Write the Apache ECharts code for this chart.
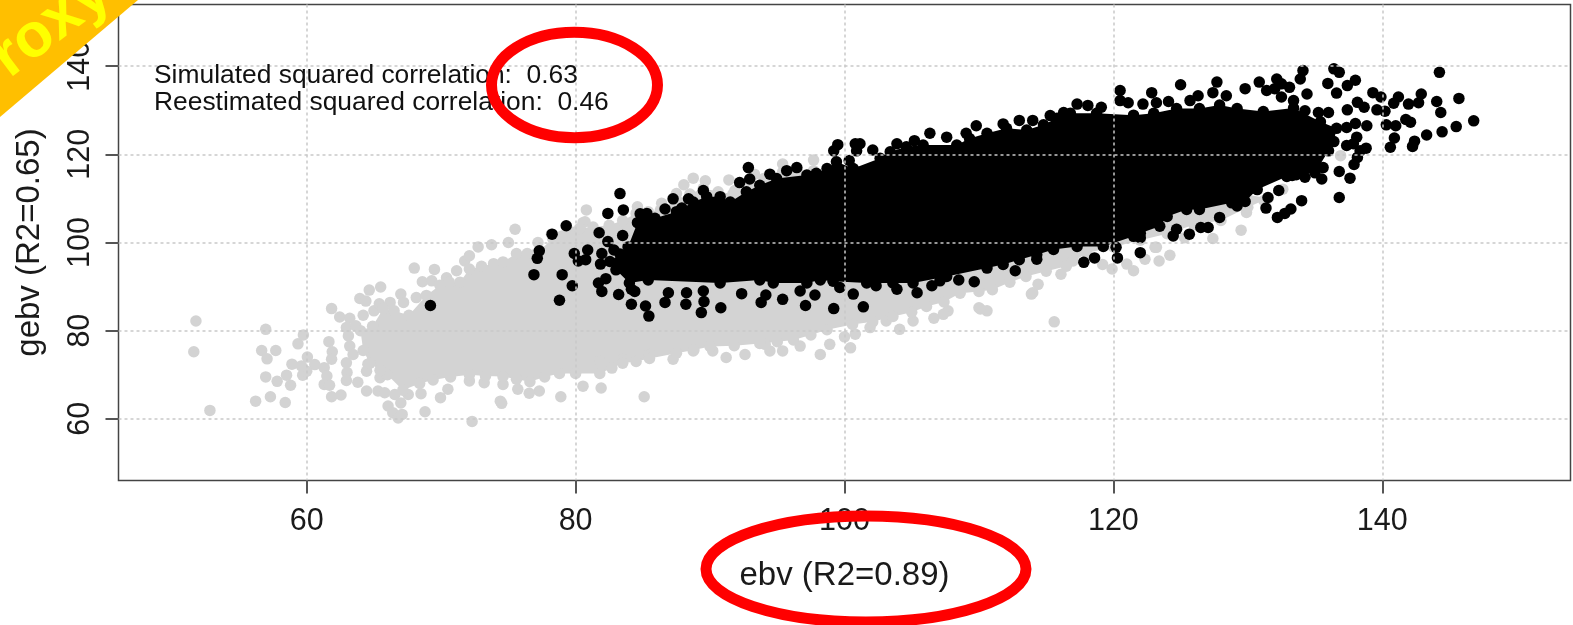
<!DOCTYPE html>
<html>
<head>
<meta charset="utf-8">
<title>ebv gebv</title>
<script src="https://cdn.jsdelivr.net/npm/echarts@6/dist/echarts.min.js"></script>
<style>
html, body { margin: 0; padding: 0; background: #fff; }
#myChart { width: 1573px; height: 625px; }
</style>
</head>
<body>
<div id="myChart"></div>
<script>
var tickValues = [60, 80, 100, 120, 140];
var xName = 'ebv (R2=0.89)';
var yName = 'gebv (R2=0.65)';
var noteLines = ['Simulated squared correlation:  0.63', 'Reestimated squared correlation:  0.46'];

// the solid part of each cloud, outline
var greyCore = [[64.2,75.5],[64,80],[64.9,81],[65.7,85],[66.5,84.5],[67.6,83.5],[68.9,88],[69.9,90.3],[70.6,91],[71.4,91],[72.1,94],[73,94.6],[73.9,95.2],[74.6,95.6],[75.6,97.5],[76.4,97.5],[77.1,97.5],[78.3,100.9],[79,101.5],[79.7,102.4],[80.3,103.2],[81.3,103.5],[82.5,103.9],[83.5,105],[84.5,106.6],[85.4,107],[86.3,107.3],[87.5,109.7],[88.5,111],[89.5,112.3],[90.6,111.5],[91.7,111],[93,113.5],[94,114.5],[95.4,116],[96.5,116.3],[97.7,116.3],[110,120],[128,112],[131.5,110],[130,108],[128,105],[126,104],[124,102],[122,100.5],[120,99],[118,97.6],[116.5,94.6],[115,93.5],[113.5,92.3],[112.3,91],[111,89.3],[110,88.9],[108.6,88.5],[107.4,86.5],[106.1,85.5],[105,84.2],[103.6,83.2],[102.1,82],[100.6,81.4],[98.7,80.2],[97.5,79],[96.2,77.9],[95,77.5],[93.7,77.1],[91.8,76.6],[90,76.4],[88.8,75.6],[87.5,74.9],[85.5,73.7],[84.5,73],[83.5,72.6],[82.7,71.5],[81.8,70.3],[80,70.3],[78.8,70.3],[77.7,69.5],[76.6,68.4],[75.6,69],[74.6,69.6],[73.3,69.7],[72.1,70],[70.7,69.5],[69.4,68.8],[68.4,68],[67.15,66.5],[66,70],[65.45,71],[64.7,72.6]];
var blackCore = [[83.9,99],[84.6,104.5],[85.1,106],[85.9,105.5],[87.5,107],[88.75,109.2],[89.75,110.4],[90.75,110.4],[91.5,109.2],[92.7,111.5],[93.7,113],[94.95,114.5],[97.2,115.3],[97.9,115.7],[98.7,116.8],[99.4,118.3],[100.65,116.8],[102.65,119.1],[103.4,120.6],[104.6,121.7],[105.85,122.1],[108.35,122.1],[109.3,123.6],[110.6,124.8],[112.05,125.9],[113.55,125.5],[114.8,126.7],[115.8,128.2],[116.8,129.3],[118.75,129.3],[121.5,128.9],[123,129.3],[124.7,130.4],[126.4,130.4],[127.9,131.2],[129.2,130.4],[131.15,129.7],[133.4,130.5],[135.4,127.4],[136.6,125.9],[136.4,122.9],[136,120.8],[135,115.8],[133.6,115.4],[132.9,115],[130.7,112],[129.8,109.3],[128.8,109],[126.4,107.5],[125.45,107.5],[124,105.9],[123.45,103.7],[122,102.1],[121.5,101.4],[119.25,99.1],[117.3,99.1],[115.55,98.4],[114.3,97.2],[113,96.1],[111.8,95],[110.6,94.2],[107.6,92.3],[105.1,90.8],[103.6,90.8],[101.65,90.8],[99.15,91.2],[98.2,91.5],[97.2,90.8],[94.7,90.8],[93.7,91.5],[90.75,90.8],[85.4,91.5],[84,90.8],[83,93.8],[82.55,95.7],[83.3,97.4]];

var greyPoints = [[51.76,82.2],[51.6,75.2],[52.8,61.9],[56.2,64],[57.3,65],[58.4,63.7],[56.95,80.3],[56.65,75.5],[57.7,75.5],[57.05,73.6],[56.95,69.5],[57.8,68.5],[58.5,69.9],[58.8,67.6],[58.9,72.4],[59.35,77],[59.75,79],[60.05,74],[60.6,72.3],[59.7,69.9],[60,70.8],[59.6,72],[61.3,71.6],[61.5,69.7],[61.3,67.8],[61.7,67.6],[61.85,65],[62.55,65.4],[61.65,77.5],[61.9,75.2],[61.85,73.5],[61.85,85],[62.45,83.1],[63.2,82.8],[62.95,80.7],[63.65,81.1],[63.1,78.8],[63.2,76.5],[63.45,74.6],[62.95,72.7],[63,70.5],[62.95,68.7],[63.8,68.3],[64.45,66.3],[64.55,72.4],[64.45,70.8],[65.45,69.3],[65.3,66.3],[65.8,65.9],[66.05,62.9],[66.4,61.4],[66.8,60.2],[67.1,61],[67,63.6],[66.55,65.5],[67.55,65.5],[68.5,65.7],[68.8,61.6],[69.95,64.8],[70.5,66.7],[72.3,59.4],[74.4,64],[74.5,63.5],[78.9,65],[85.1,65],[81.9,67],[80.55,67.4],[77.3,66.3],[76.55,65.8],[75.7,66.7],[74.6,67.8],[73.2,68.2],[72.1,68.6],[64.65,89.2],[65.5,89.9],[63.95,87.3],[64.4,86.7],[64.2,83.5],[65,84.5],[65.4,86.1],[66.2,86.4],[67,88.3],[67.2,86.4],[68.15,87.5],[68,94.2],[69.5,93.9],[68.6,91.1],[69.3,91.3],[70.4,92],[71.15,93.6],[71.75,95.8],[72.1,97],[72.75,99],[73.75,99.5],[75,100],[75.5,103],[77.2,100],[78.2,101.9],[80.55,104.5],[80.8,107.4],[80.7,104.7],[84.6,108.1],[86.4,108.9],[87.5,111.1],[88.05,113.1],[88.75,114.6],[89.65,114],[91.4,114.2],[91.85,111.8],[93.3,115.5],[95.4,117.8],[97.7,118.7],[98.2,74.6],[98.9,76.9],[100,78.6],[100.45,76.1],[100.8,79.2],[101.9,80.7],[103.1,82.2],[104.1,80.3],[105.1,82.2],[106.65,82.8],[110.6,84.5],[110,85.2],[107.7,84.5],[113.9,88.3],[115.6,82],[96.7,76.5],[95.4,75.4],[94.45,75.4],[94.1,76.9],[92.6,74.6],[91.2,73.9],[90.2,75.4],[88.75,75.4],[87.25,73.5],[85.5,74.6],[83.5,73.5],[81.8,73.1],[110.1,84.9],[107.35,83.7],[114,88.6],[114.4,90.5],[116.1,92.8],[117,95.8],[119.2,95],[119.9,94],[121,95.1],[121.5,93.6],[122.35,96.2],[123.4,95.8],[124.2,97.1],[123.2,98.9],[127.4,100.9],[129.5,102.8],[129.9,106.8],[128.4,107.2],[132.6,112.1],[136.9,119.7],[123.1,98.9],[131.2,109.5],[125.3,101.1]];

var blackPoints = [[69.2,85.7],[76.9,92.7],[77.3,98.1],[77.15,96.4],[78.25,101.9],[79.3,103.8],[79,92.7],[79.75,90.2],[78.8,86.9],[79.9,97.5],[80.2,95.8],[80.9,98.3],[80.75,96.1],[81.75,102.2],[82.4,100.2],[82.85,98.3],[83.5,101.6],[81.95,97.5],[81.85,95.1],[81.7,90.8],[82.25,91.8],[81.95,88.9],[83.2,88.2],[84.15,89.4],[84.4,88.9],[84.15,86],[85.2,85.6],[85.45,83.3],[83.3,111.1],[82.4,106.6],[83.55,107.4],[86.65,86.4],[88.2,86],[89.55,86.6],[89.35,84.1],[90.8,85.2],[93.8,86.4],[94.15,88.1],[95.4,87.1],[97.1,85.7],[97.8,88.1],[99.2,85],[100.65,88.3],[101.4,85.4],[103.9,89.4],[105.4,88.6],[106.5,90.2],[108.5,91.5],[109.65,91.1],[112.7,93.6],[114.3,96.2],[86.9,88.6],[88.25,88.6],[89.5,89],[92.35,88.4],[96.7,89],[99.65,89.8],[102.35,90.2],[107.1,91.3],[92.85,117],[92.95,114.4],[92.2,113.6],[88.4,109.9],[89.5,111.8],[87.25,109.9],[86.65,107.6],[87.9,107.8],[84.8,106.5],[85.3,106.6],[94.45,115.5],[95.7,116.3],[96.45,117],[99.5,122.2],[99.2,120.8],[100.8,122.4],[101.15,122.4],[100.9,120.8],[102.1,121],[100.35,118.6],[103.9,122.4],[105.2,123.1],[106.35,124.8],[107.6,123.9],[109.05,124.8],[109.8,126.5],[111.8,126.9],[117.3,131.4],[118.1,131.1],[119.1,130.7],[116.3,129.5],[115.3,128.8],[114,127.7],[113,127.7],[120.5,134.5],[120.5,132.2],[121.1,131.7],[122.85,134],[123.2,131.7],[122.2,131.4],[125,135.8],[124.1,132],[126.3,133.3],[125.7,132.2],[127.4,134],[127.7,136.4],[129.8,134.9],[128.4,133.3],[130.85,136.4],[132.15,137.1],[132.5,136],[131.4,134.5],[132,134.9],[133.1,135.2],[132.5,133],[134.1,139],[133.9,137.1],[134.4,133.7],[133.4,132.2],[135.25,129.5],[136,129.5],[134.25,129.9],[136.4,139.4],[136.8,138.6],[135.95,136.1],[136.6,133.9],[137.4,135.6],[138,136.8],[139.3,134],[139.9,133],[138.15,131.8],[137.4,130.1],[138.65,130.7],[139.6,130.1],[140.2,129.8],[138,127],[138.85,126.5],[140.3,126.7],[141,126.5],[141.2,133],[140.85,131.6],[141.95,131.4],[142.9,133.7],[142.7,131.7],[144.25,138.6],[144.05,132],[145.7,132.7],[144.35,129.5],[146.8,127.6],[145.5,126.3],[144.45,125.1],[143.3,124.4],[141.75,127.9],[142.1,127.3],[140.9,123.7],[140.6,121.6],[142.4,123],[142.25,121.8],[138.8,121.4],[138.35,120.8],[138.15,119.3],[137.9,117.7],[137.6,114.6],[136.8,116.1],[136.8,110.2],[137.85,122.4],[137.35,126.1],[138.1,123.9],[137.35,122],[135.5,114.4],[135.6,117],[135,117.8],[133.9,117],[133.3,115.2],[134.25,114.8],[134,109.5],[133.2,107.6],[132.75,106.6],[132.2,105.7],[131.35,107.8],[131.5,110.2],[132.3,111.8],[127.9,105.7],[127.05,103.4],[126.5,103.4],[125.65,101.9],[124.45,101.5],[124.7,103],[122,97.7],[120.3,96.5],[118.6,96.5],[117.8,95.5],[122,101.1],[120.2,98.9],[129.2,108.3]];

var fontName = '"Liberation Sans", Arial, sans-serif';

function coreSeries(outline, color, z) {
	return {
		type: 'custom',
		coordinateSystem: 'cartesian2d',
		silent: true,
		z: z,
		data: [0],
		renderItem: function (params, api) {
			return {
				type: 'polygon',
				shape: { points: outline.map(function (p) { return api.coord(p); }) },
				style: { fill: color }
			};
		}
	};
}

function pointSeries(points, color, z) {
	return {
		type: 'scatter',
		data: points,
		symbol: 'circle',
		symbolSize: 11.5,
		silent: true,
		z: z,
		itemStyle: { color: color, opacity: 1 }
	};
}

function axisOption(name, gap, rotate, labelMargin) {
	return {
		type: 'value',
		min: 46,
		max: 154,
		z: 10,
		name: name,
		nameLocation: 'middle',
		nameGap: gap,
		nameTextStyle: { fontFamily: fontName, fontSize: 33, color: '#1a1a1a' },
		axisLine: { show: false },
		axisTick: { show: true, length: 13, customValues: tickValues, lineStyle: { color: '#555', width: 2 } },
		axisLabel: {
			customValues: tickValues,
			rotate: rotate,
			margin: labelMargin,
			fontFamily: fontName,
			fontSize: 30.5,
			color: '#1a1a1a'
		},
		splitLine: { show: true, lineStyle: { color: '#c9c9c9', width: 1.5, type: [3, 3] } }
	};
}

var myChart = echarts.init(document.getElementById('myChart'));
myChart.setOption({
	animation: false,
	grid: { show: true, left: 118.5, top: 4.5, width: 1452, height: 476, borderColor: '#444', borderWidth: 1.5, backgroundColor: '#fff' },
	xAxis: axisOption(xName, 79, 0, 26),
	yAxis: axisOption(yName, 72, 90, 22),
	series: [
		coreSeries(greyCore, '#d3d3d3', 2),
		pointSeries(greyPoints, '#d3d3d3', 3),
		pointSeries(greyCore, '#d3d3d3', 3),
		coreSeries(blackCore, '#000', 4),
		pointSeries(blackPoints, '#000', 5),
		pointSeries(blackCore, '#000', 5)
	],
	graphic: [
		{ type: 'text', z: 50, x: 154, y: 76, style: { text: noteLines[0], fontFamily: fontName, fontSize: 26.4, fill: '#111', textVerticalAlign: 'middle' } },
		{ type: 'text', z: 50, x: 154, y: 102.6, style: { text: noteLines[1], fontFamily: fontName, fontSize: 26.4, fill: '#111', textVerticalAlign: 'middle' } },
		{ type: 'ellipse', z: 60, shape: { cx: 574.5, cy: 85, rx: 83, ry: 52.7 }, style: { fill: 'none', stroke: '#ff0000', lineWidth: 11 } },
		{ type: 'ellipse', z: 60, shape: { cx: 866, cy: 569, rx: 160, ry: 53 }, style: { fill: 'none', stroke: '#ff0000', lineWidth: 11 } },
		{ type: 'polygon', z: 70, shape: { points: [[0, 0], [138, 0], [0, 117]] }, style: { fill: '#ffbf00' } },
		{ type: 'text', z: 71, x: 35, y: 38, rotation: 37 * Math.PI / 180, style: { text: 'Proxy', fontFamily: fontName, fontWeight: 'bold', fontSize: 62, fill: '#ffff00', textAlign: 'center', textVerticalAlign: 'middle' } }
	]
});
</script>
</body>
</html>
